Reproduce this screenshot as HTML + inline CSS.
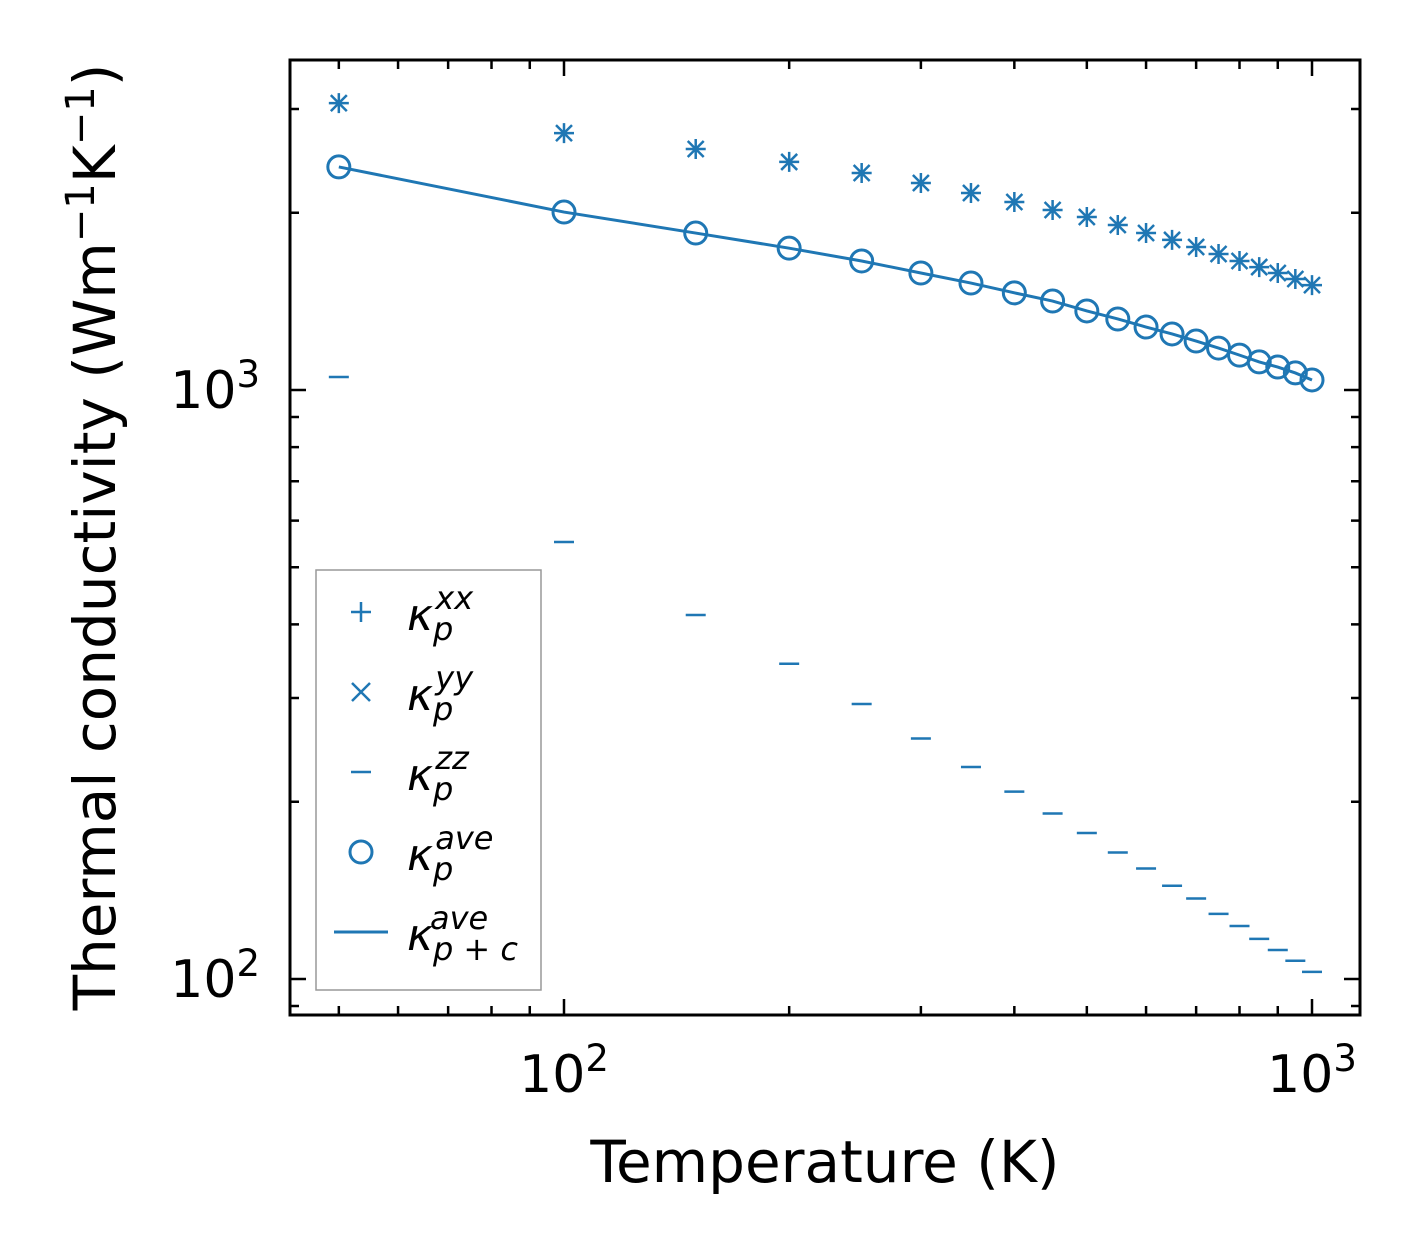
<!DOCTYPE html>
<html><head><meta charset="utf-8"><style>
body{margin:0;background:#fff;}
svg text{font-family:"DejaVu Sans","Liberation Sans",sans-serif;fill:#000;}
</style></head><body>
<svg id="chart" width="1421" height="1254" viewBox="0 0 1421 1254" xmlns="http://www.w3.org/2000/svg">
<rect width="1421" height="1254" fill="#fff"/>
<g id="marks"></g>
<g id="axes"></g>
<rect x="290" y="60" width="1070" height="955" fill="none" stroke="#000" stroke-width="3"/>
<text x="825" y="1182" font-size="58" text-anchor="middle">Temperature (K)</text>
<text transform="translate(115,537) rotate(-90)" font-size="58" text-anchor="middle">Thermal conductivity (Wm<tspan dy="-21" font-size="40">−1</tspan><tspan dy="21">K</tspan><tspan dy="-21" font-size="40">−1</tspan><tspan dy="21">)</tspan></text>
<g>
<rect x="316" y="570" width="225" height="420" fill="#fff" stroke="#999" stroke-width="1.5"/>
<g>
<path d="M351 612h20M361 602v20" stroke="#1f77b4" stroke-width="2.5"/>
<text x="407" y="630" font-size="44" font-style="italic">κ<tspan dy="10" font-size="32">p</tspan><tspan dx="-18" dy="-31" font-size="32">xx</tspan></text></g>
<g>
<path d="M352 683l18 18M370 683l-18 18" stroke="#1f77b4" stroke-width="2.5"/>
<text x="407" y="710" font-size="44" font-style="italic">κ<tspan dy="10" font-size="32">p</tspan><tspan dx="-18" dy="-31" font-size="32">yy</tspan></text></g>
<g>
<path d="M351 772h20" stroke="#1f77b4" stroke-width="2.5"/>
<text x="407" y="790" font-size="44" font-style="italic">κ<tspan dy="10" font-size="32">p</tspan><tspan dx="-18" dy="-31" font-size="32">zz</tspan></text></g>
<g>
<circle cx="361" cy="852" r="11" fill="none" stroke="#1f77b4" stroke-width="3"/>
<text x="407" y="870" font-size="44" font-style="italic">κ<tspan dy="10" font-size="32">p</tspan><tspan dx="-18" dy="-31" font-size="32">ave</tspan></text></g>
<g>
<path d="M334 932h54" stroke="#1f77b4" stroke-width="3"/>
<text x="407" y="950" font-size="44" font-style="italic">κ<tspan dy="10" font-size="32">p + c</tspan><tspan dx="-88" dy="-31" font-size="32">ave</tspan></text></g>
</g>
</svg>
<script>
const temps=[50,100,150,200,250,300,350,400,450,500,550,600,650,700,750,800,850,900,950,1000];
const kxx=[3070,2730,2566,2439,2336,2246,2160,2085,2021,1967,1906,1847,1798,1749,1702,1656,1617,1580,1543,1507];
const kyy=[3070,2730,2566,2439,2336,2246,2160,2085,2021,1967,1906,1847,1798,1749,1702,1656,1617,1580,1543,1507];
const kzz=[1052,552,415,343,293,256,229,208,191,177,164,154,144,137,129,123,117,112,107.4,102.8];
const kave=[2392,2005,1847,1741,1656,1580,1519,1462,1416,1362,1320,1279,1245,1211,1178,1146,1116,1094,1069,1040];
const kavepc=[2392,2005,1847,1741,1656,1580,1519,1462,1416,1362,1320,1279,1245,1211,1178,1146,1116,1094,1069,1040];
const xMinor=[50,60,70,80,90,200,300,400,500,600,700,800,900];
const xMajor=[100,1000];
const yMinor=[90,200,300,400,500,600,700,800,900,2000,3000];
const yMajor=[100,1000];
const NS='http://www.w3.org/2000/svg';
function X(v){return 564+748*(Math.log10(v)-2);}
function Y(v){return 390-589*(Math.log10(v)-3);}
const C='#1f77b4';
const marks=document.getElementById('marks'),axes=document.getElementById('axes');
function mk(tag,at,parent){const e=document.createElementNS(NS,tag);for(const k in at)e.setAttribute(k,at[k]);parent.appendChild(e);return e;}
let d='';temps.forEach((t,i)=>{d+=(i?'L':'M')+X(t)+' '+Y(kavepc[i]);});
const ln=mk('path',{d:d,fill:'none',stroke:C,'stroke-width':3},marks);


temps.forEach((t,i)=>{
 const x=X(t);let y=Y(kxx[i]);
 const p=mk('path',{d:`M${x-10} ${y}h20M${x} ${y-10}v20`,stroke:C,'stroke-width':2.5},marks);
 
 
 y=Y(kyy[i]);
 const q=mk('path',{d:`M${x-8} ${y-8}l16 16M${x+8} ${y-8}l-16 16`,stroke:C,'stroke-width':2.5},marks);
 
 
 y=Y(kzz[i]);
 const z=mk('path',{d:`M${x-10} ${y}h20`,stroke:C,'stroke-width':2.5},marks);
 
 
 const c=mk('circle',{cx:x,cy:Y(kave[i]),r:11,fill:'none',stroke:C,'stroke-width':3},marks);
 
 
});
function tick(d){const t=mk('path',{d:d,stroke:'#000','stroke-width':2.5},axes);
 
 }
xMinor.forEach(v=>{const x=X(v);tick(`M${x} 1015v-9M${x} 60v9`);});
xMajor.forEach(v=>{const x=X(v);tick(`M${x} 1015v-16M${x} 60v16`);
 const t=mk('text',{x:x,y:1092,'font-size':52,'text-anchor':'middle'},axes);
 t.innerHTML='10<tspan dy="-21" font-size="37">'+Math.round(Math.log10(v))+'</tspan>';
 
 });
yMinor.forEach(v=>{const y=Y(v);if(y<60||y>1015)return;tick(`M290 ${y}h9M1360 ${y}h-9`);});
yMajor.forEach(v=>{const y=Y(v);tick(`M290 ${y}h16M1360 ${y}h-16`);
 const t=mk('text',{x:260,y:y+18,'font-size':52,'text-anchor':'end'},axes);
 t.innerHTML='10<tspan dy="-21" font-size="37">'+Math.round(Math.log10(v))+'</tspan>';
 
 });
</script>
</body></html>
